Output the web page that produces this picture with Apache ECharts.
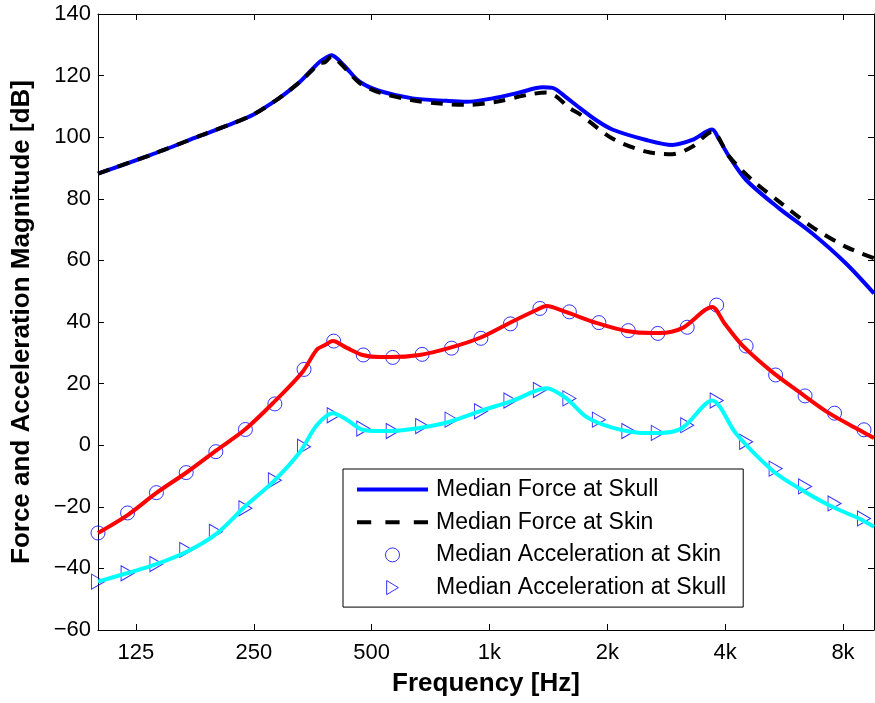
<!DOCTYPE html>
<html>
<head>
<meta charset="utf-8">
<script src="https://cdn.jsdelivr.net/npm/echarts@6/dist/echarts.min.js"></script>
<style>html,body{margin:0;padding:0;background:#fff}#c{width:875px;height:703px}</style>
</head>
<body>
<div id="c"></div>
<script>
// ---- data (frequency in Hz, magnitude in dB) ----
var tickFreqs = [125, 250, 500, 1000, 2000, 4000, 8000];
var tickLabels = ['125', '250', '500', '1k', '2k', '4k', '8k'];

var forceSkullF = [100, 136, 182, 221, 249, 286, 309, 328, 354, 368, 384, 395, 410, 432, 466, 524, 636, 777, 874, 1018, 1193, 1365, 1450, 1550, 1700, 1875, 2060, 2515, 2930, 3295, 3706, 3850, 4096, 4525, 5494, 6669, 8142, 9600];
var forceSkullV = [88.2, 94.2, 100.4, 104.5, 107.3, 112.1, 115.3, 118.0, 122.3, 124.4, 126.0, 126.6, 125.3, 122.3, 118.0, 115.0, 112.6, 111.8, 111.5, 112.6, 114.5, 116.2, 116.0, 113.5, 109.5, 105.5, 102.5, 99.1, 97.5, 99.1, 102.5, 99.5, 93.7, 86.1, 76.9, 68.8, 59.0, 49.3];

var forceSkinF = [100, 136, 182, 221, 249, 286, 309, 328, 354, 368, 380, 395, 410, 432, 466, 524, 636, 733, 874, 1042, 1243, 1398, 1483, 1600, 1700, 2060, 2515, 2930, 3295, 3706, 4096, 4688, 5494, 6669, 8142, 9600];
var forceSkinV = [88.2, 94.2, 100.4, 104.5, 107.3, 112.1, 115.3, 118.0, 122.0, 124.0, 124.3, 126.2, 124.8, 121.8, 117.6, 114.5, 112.0, 111.0, 110.5, 111.5, 113.7, 114.5, 113.2, 109.5, 107.5, 99.6, 95.3, 94.5, 96.9, 101.8, 93.7, 86.1, 79.1, 70.9, 64.4, 60.7];

var accSkinLineF = [100, 119, 141, 169, 201, 237, 280, 333, 362, 380, 398, 432, 474, 524, 556, 663, 791, 943, 1125, 1318, 1398, 1572, 1875, 2236, 2605, 2715, 3108, 3706, 3978, 4420, 5271, 6178, 7368, 8790, 9600];
var accSkinLineV = [-28.5, -22.7, -15.5, -8.7, -1.6, 5.0, 13.7, 23.8, 31.0, 32.5, 33.8, 31.6, 29.3, 28.6, 28.6, 29.3, 31.6, 34.8, 39.7, 43.9, 45.2, 43.2, 39.7, 37.1, 36.4, 36.4, 38.0, 44.9, 39.7, 32.5, 23.8, 17.3, 10.4, 5.0, 2.3];

var accSkullLineF = [100, 119, 141, 169, 201, 237, 280, 328, 362, 398, 432, 474, 524, 556, 663, 791, 943, 1149, 1398, 1572, 1768, 2060, 2457, 2715, 3108, 3706, 4267, 5271, 6178, 7368, 8790, 9600];
var accSkullLineV = [-44.3, -41.5, -38.6, -34.5, -28.7, -20.0, -11.9, -2.2, 6.5, 10.4, 8.3, 5.0, 4.6, 4.6, 5.6, 7.6, 11.0, 14.5, 18.5, 15.2, 9.2, 5.7, 4.0, 4.0, 5.6, 14.5, 3.7, -8.1, -14.0, -19.5, -23.8, -26.5];

var markerF = [100, 119, 141, 168, 200, 238, 283, 336, 400, 476, 566, 673, 800, 951, 1131, 1345, 1600, 1903, 2263, 2691, 3200, 3805, 4525, 5382, 6400, 7611, 9051];
var accSkinMarkV = [-28.5, -22.0, -15.4, -8.9, -2.1, 5.1, 13.4, 24.6, 33.8, 29.3, 28.5, 29.5, 31.5, 34.7, 39.4, 44.4, 43.3, 39.8, 37.2, 36.3, 38.3, 45.5, 32.2, 22.8, 16.0, 10.4, 5.0];
var accSkullMarkV = [-44.3, -41.6, -38.6, -34.0, -28.1, -20.5, -11.4, -0.5, 9.7, 5.4, 4.6, 6.2, 8.3, 11.0, 14.5, 17.9, 15.2, 8.3, 4.6, 4.0, 6.5, 14.5, 1.1, -7.6, -13.4, -18.9, -23.8];

function zip(a, b) { return a.map(function (v, i) { return [v, b[i]]; }); }

var FONT = 'Liberation Sans, Arial, Helvetica, sans-serif';
var TRI = 'path://M0,0L10,6L0,12Z';
var SOLID_ICON = 'path://M0,0h71v4h-71z';
var DASH_ICON = 'path://M0,0h14v4h-14zM28,0h14v4h-14zM56,0h14v4h-14z';
var hollowBlue = { color: 'rgba(0,0,0,0)', borderColor: '#0000ff', borderWidth: 1 };

var chart = echarts.init(document.getElementById('c'), null, { renderer: 'canvas' });
var xBase = {
  type: 'log', min: 100, max: 9600, logBase: 10,
  splitLine: { show: false },
  axisLine: { onZero: false, lineStyle: { color: '#000', width: 1 } },
  axisTick: { inside: true, length: 6, customValues: tickFreqs, lineStyle: { color: '#000' } },
  minorTick: { show: false }
};
var yBase = {
  type: 'value', min: -60, max: 140, interval: 20,
  splitLine: { show: false },
  axisLine: { show: true, onZero: false, lineStyle: { color: '#000', width: 1 } },
  axisTick: { show: true, inside: true, length: 6, lineStyle: { color: '#000' } }
};

chart.setOption({
  animation: false,
  backgroundColor: '#fff',
  grid: { left: 98, right: 1, top: 14, bottom: 73, containLabel: false },
  xAxis: [
    Object.assign({}, xBase, {
      position: 'bottom',
      name: 'Frequency [Hz]', nameLocation: 'middle', nameGap: 41,
      nameTextStyle: { fontFamily: FONT, fontSize: 26, fontWeight: 'bold', color: '#000' },
      axisLabel: {
        customValues: tickFreqs, margin: 12, fontFamily: FONT, fontSize: 22, color: '#000',
        formatter: function (v) { var i = tickFreqs.indexOf(Math.round(v)); return i >= 0 ? tickLabels[i] : ''; }
      }
    }),
    Object.assign({}, xBase, { position: 'top', axisLabel: { show: false } })
  ],
  yAxis: [
    Object.assign({}, yBase, {
      position: 'left',
      name: 'Force and Acceleration Magnitude [dB]', nameLocation: 'middle', nameGap: 63, nameRotate: 90,
      nameTextStyle: { fontFamily: FONT, fontSize: 26, fontWeight: 'bold', color: '#000' },
      axisLabel: {
        margin: 7, fontFamily: FONT, fontSize: 22, color: '#000',
        formatter: function (v) { return v < 0 ? '\u2212' + Math.abs(v) : String(v); }
      }
    }),
    Object.assign({}, yBase, { position: 'right', axisLabel: { show: false } })
  ],
  legend: {
    orient: 'vertical', left: 343, top: 469,
    padding: [9, 17, 8, 14],
    itemWidth: 71, itemHeight: 14, itemGap: 9.7,
    backgroundColor: '#fff', borderColor: '#000', borderWidth: 1, borderRadius: 0,
    textStyle: { fontFamily: FONT, fontSize: 23, color: '#000', lineHeight: 23, padding: [0, 0, 0, 3] },
    z: 10,
    data: [
      { name: 'Median Force at Skull', icon: SOLID_ICON, itemStyle: { color: '#0000ff', borderWidth: 0 } },
      { name: 'Median Force at Skin', icon: DASH_ICON, itemStyle: { color: '#000', borderWidth: 0 } },
      { name: 'Median Acceleration at Skin', icon: 'circle', itemStyle: hollowBlue },
      { name: 'Median Acceleration at Skull', icon: TRI, itemStyle: hollowBlue }
    ]
  },
  series: [
    {
      name: 'Median Force at Skull', type: 'line', data: zip(forceSkullF, forceSkullV),
      showSymbol: false, symbol: 'none', smooth: 0.3, z: 4,
      lineStyle: { color: '#0000ff', width: 4 }, itemStyle: { color: '#0000ff' }
    },
    {
      name: 'Median Force at Skin', type: 'line', data: zip(forceSkinF, forceSkinV),
      showSymbol: false, symbol: 'none', smooth: 0.3, z: 5,
      lineStyle: { color: '#000', width: 4, type: [12, 9] }, itemStyle: { color: '#000' }
    },
    {
      name: 'Median Acceleration at Skin', type: 'scatter', data: zip(markerF, accSkinMarkV),
      symbol: 'circle', symbolSize: 14, z: 2, itemStyle: hollowBlue
    },
    {
      name: 'Median Acceleration at Skull', type: 'scatter', data: zip(markerF, accSkullMarkV),
      symbol: TRI, symbolSize: [13, 15], symbolKeepAspect: false, z: 2, itemStyle: hollowBlue
    },
    {
      name: 'Acceleration at Skin (fit)', type: 'line', data: zip(accSkinLineF, accSkinLineV),
      showSymbol: false, symbol: 'none', smooth: 0.3, z: 4,
      lineStyle: { color: '#ff0000', width: 4 }, itemStyle: { color: '#ff0000' }
    },
    {
      name: 'Acceleration at Skull (fit)', type: 'line', data: zip(accSkullLineF, accSkullLineV),
      showSymbol: false, symbol: 'none', smooth: 0.3, z: 4,
      lineStyle: { color: '#00ffff', width: 4 }, itemStyle: { color: '#00ffff' }
    }
  ]
});
</script>
</body>
</html>
